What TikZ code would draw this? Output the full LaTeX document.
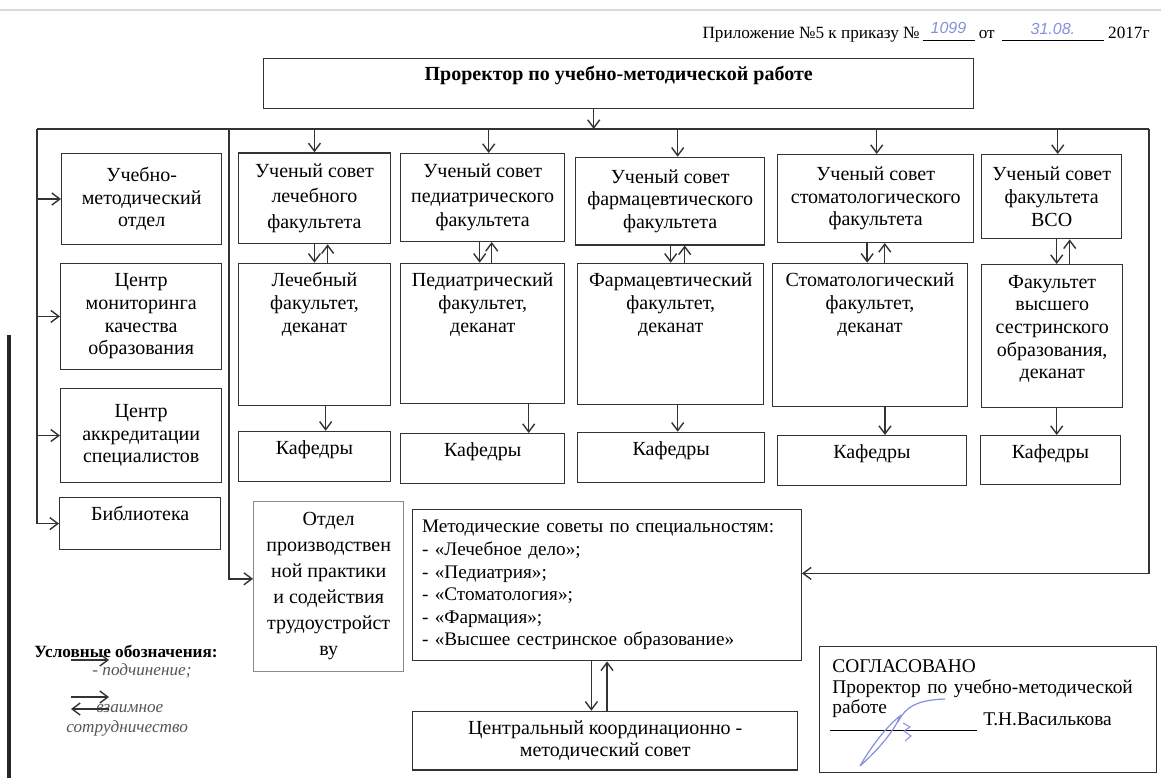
\documentclass[tikz,border=0pt]{standalone}
\usepackage{fontspec}
\setmainfont{Liberation Serif}
\newfontfamily\handfont{Liberation Sans}
\usetikzlibrary{arrows.meta}

\definecolor{linecol}{HTML}{333333}
\definecolor{inkblue}{HTML}{8590DA}
\definecolor{graybox}{HTML}{8A8A8A}
\definecolor{legcol}{HTML}{555555}

\newcommand{\bxfont}{\fontsize{10}{11.3}\selectfont}

\tikzset{
  box/.style={draw=linecol, line width=0.7pt, anchor=north west, align=center,
    inner xsep=2pt, inner ysep=2pt, font=\bxfont},
  topbox/.style={box, inner ysep=0pt, text height=#1},
  arr/.style={draw=linecol, line width=0.7pt, -{Straight Barb[length=4pt,width=6pt]}},
  line/.style={draw=linecol, line width=0.7pt},
  legtext/.style={anchor=west, inner sep=0pt, text=legcol, font=\itshape\fontsize{8.6}{10}\selectfont},
}

\begin{document}
\begin{tikzpicture}[x=0.5pt, y=-0.5pt]
        \useasboundingbox (0,0) rectangle (1161,778);

        % scan edges
        \draw[black!15, line width=0.8pt] (0,10) -- (1161,10);
        \draw[black!85, line width=2.2pt] (9,335) -- (9,778);

        % Define Nodes
        \node[anchor=east, inner sep=0pt, font=\fontsize{8.6}{10}\selectfont] (hdr) at (1150,32)
          {Приложение №5 к приказу №\,\underline{\makebox[26pt]{\raisebox{2.5pt}{\handfont\itshape\fontsize{8}{9}\selectfont\color{inkblue}1099}}}\ от \,\underline{\makebox[51pt]{\raisebox{2pt}{\handfont\itshape\fontsize{8}{9}\selectfont\color{inkblue}31.08.}}}\ 2017г};

        \node[topbox=11pt, text depth=14pt, minimum width=355pt, font=\bfseries\bxfont] (pro) at (263,57.5) {Проректор по учебно-методической работе};

        \node[box, minimum width=80pt, minimum height=45.6pt] (umo) at (61,152.7) {Учебно-\\методический\\отдел};
        \node[box, minimum width=80.5pt, minimum height=53pt] (cmk) at (60,262.7) {Центр\\мониторинга\\качества\\образования};
        \node[box, minimum width=80.5pt, minimum height=46.8pt] (cas) at (60,388) {Центр\\аккредитации\\специалистов};
        \node[topbox=11.4pt, text depth=14.75pt, minimum width=80.5pt] (lib) at (59,496.7) {Библиотека};

        \node[box, minimum width=76.25pt, minimum height=45.3pt, font=\fontsize{10}{12.6}\selectfont] (sl) at (237.5,152.3) {Ученый совет\\лечебного\\факультета};
        \node[box, minimum width=82pt, minimum height=43.8pt, font=\fontsize{10}{12.4}\selectfont] (sp) at (400,153) {Ученый совет\\педиатрического\\факультета};
        \node[box, minimum width=94.5pt, minimum height=43.7pt] (sf) at (575,156.7) {Ученый совет\\фармацевтического\\факультета};
        \node[box, minimum width=98pt, minimum height=43.8pt] (ss) at (777,154) {Ученый совет\\стоматологического\\факультета};
        \node[box, minimum width=70pt, minimum height=42pt] (sv) at (981,154) {Ученый совет\\факультета\\ВСО};

        \node[topbox=11.7pt, text depth=59.45pt, text width=72.25pt] (fl) at (237.5,262.7) {Лечебный\\факультет,\\деканат};
        \node[topbox=11.7pt, text depth=58.45pt, text width=78pt] (fp) at (400,262.7) {Педиатрический\\факультет,\\деканат};
        \node[topbox=11.7pt, text depth=58.95pt, text width=89pt] (ff) at (577,262.7) {Фармацевтический\\факультет,\\деканат};
        \node[topbox=11.7pt, text depth=59.95pt, text width=93.75pt] (fs) at (771.5,262.7) {Стоматологический\\факультет,\\деканат};
        \node[topbox=11.75pt, text depth=59.75pt, text width=66.5pt] (fv) at (981,264) {Факультет\\высшего\\сестринского\\образования,\\деканат};

        \node[topbox=11.6pt, text depth=13.4pt, minimum width=76.25pt] (kl) at (237.5,430.7) {Кафедры};
        \node[topbox=11.6pt, text depth=13.4pt, minimum width=82pt] (kp) at (400,433) {Кафедры};
        \node[topbox=11.6pt, text depth=13.4pt, minimum width=93.5pt] (kf) at (577,431.7) {Кафедры};
        \node[topbox=11.6pt, text depth=13.4pt, minimum width=94.75pt] (ks) at (776.5,435) {Кафедры};
        \node[topbox=11.6pt, text depth=12.9pt, minimum width=70.25pt] (kv) at (979.5,435) {Кафедры};

        \node[box, draw=graybox, minimum width=75pt, minimum height=85pt, font=\fontsize{10}{13}\selectfont] (otdel) at (253,500.7) {Отдел\\производствен\\ной практики\\и содействия\\трудоустройст\\ву};
        \node[box, align=left, text width=185pt, inner xsep=4.65pt, minimum height=75.5pt, font=\fontsize{9.6}{11.3}\selectfont] (metod) at (412,509)
          {Методические советы по специальностям:\\- «Лечебное дело»;\\- «Педиатрия»;\\- «Стоматология»;\\- «Фармация»;\\- «Высшее сестринское образование»};
        \node[box, minimum width=192.5pt, minimum height=29.2pt] (ckms) at (412,710.7) {Центральный координационно -\\методический совет};

        \node[topbox=12.75pt, text depth=50.25pt, align=left, text width=155.9pt, inner xsep=6.3pt, font=\fontsize{9.7}{10.4}\selectfont] (sogl) at (819,646)
          {СОГЛАСОВАНО\\Проректор по учебно-методической\\работе};
        \node[anchor=base west, inner sep=0pt, font=\fontsize{9.7}{10.4}\selectfont] (name) at (983,725) {Т.Н.Василькова};
        \coordinate (sga) at (830,730);
        \coordinate (sgb) at (977,730);

        \node[anchor=west, inner sep=0pt, font=\bfseries\fontsize{8.6}{10}\selectfont] (leg) at (34,651.7) {Условные обозначения:};
        \node[legtext] (leg1) at (92,671) {- подчинение;};
        \node[legtext] (leg2) at (96,709) {взаимное};
        \node[legtext] (leg3) at (66,728) {сотрудничество};
        \coordinate (la1) at (71,660);  \coordinate (lb1) at (109,660);
        \coordinate (la2) at (71,697);  \coordinate (lb2) at (109,697);
        \coordinate (la3) at (109,709); \coordinate (lb3) at (71,709);

        \coordinate (lbus) at (37,129);
        \coordinate (ibus) at (229,129);
        \coordinate (rbus) at (1149,129);

        % Draw Edges
        \draw[line] (lbus) -- (rbus);
        \draw[arr] ([xshift=-12.5pt]pro.south) -- ([xshift=-12.5pt]pro.south |- lbus);
        \foreach \n/\dx in {sl/0, sp/3, sf/3.75, ss/0.5, sv/3}
          \draw[arr] ([xshift=\dx pt]\n.north |- lbus) -- ([xshift=\dx pt]\n.north);
        \foreach \n in {umo, cmk, cas, lib}
          \draw[arr] (lbus) |- (\n);
        \draw[arr] (ibus) |- ([yshift=3.8pt]otdel.west);
        \draw[arr] (rbus) |- ([yshift=5.9pt]metod.east);

        \foreach \s/\f/\a/\b in {sl/fl/0/6.6, sp/fp/-1.5/4.5, sf/ff/0/7, ss/fs/-1.4/7.4, sv/fv/2.25/8.75} {
          \draw[arr] ([xshift=\a pt]\f.north |- \s.south) -- ([xshift=\a pt]\f.north);
          \draw[arr] ([xshift=\b pt]\f.north) -- ([xshift=\b pt]\f.north |- \s.south);
        }
        \foreach \f/\k/\d in {fl/kl/5.6, fp/kp/23, ff/kf/3.5, fs/ks/7.5, fv/kv/2.25}
          \draw[arr] ([xshift=\d pt]\f.south) -- ([xshift=\d pt]\f.south |- \k.north);

        \draw[arr] ([xshift=-7.8pt]metod.south) -- ([xshift=-7.8pt]metod.south |- ckms.north);
        \draw[arr] (metod.south |- ckms.north) -- (metod.south);

        \draw[arr] (la1) -- (lb1);
        \draw[arr] (la2) -- (lb2);
        \draw[arr] (la3) -- (lb3);

        % signature
        \draw[line width=0.5pt] (sga) -- (sgb);
        \draw[inkblue, line width=0.6pt] (860,766) .. controls (872,745) and (888,725) .. (900,716)
          .. controls (895,730) and (878,750) .. (860,766);
        \draw[inkblue, line width=0.6pt] (898,722) .. controls (905,708) and (915,700) .. (945,699);
        \draw[inkblue, line width=0.5pt] (903,723) -- (910,727) -- (904,731) -- (911,736) -- (905,741);
\end{tikzpicture}
\end{document}
